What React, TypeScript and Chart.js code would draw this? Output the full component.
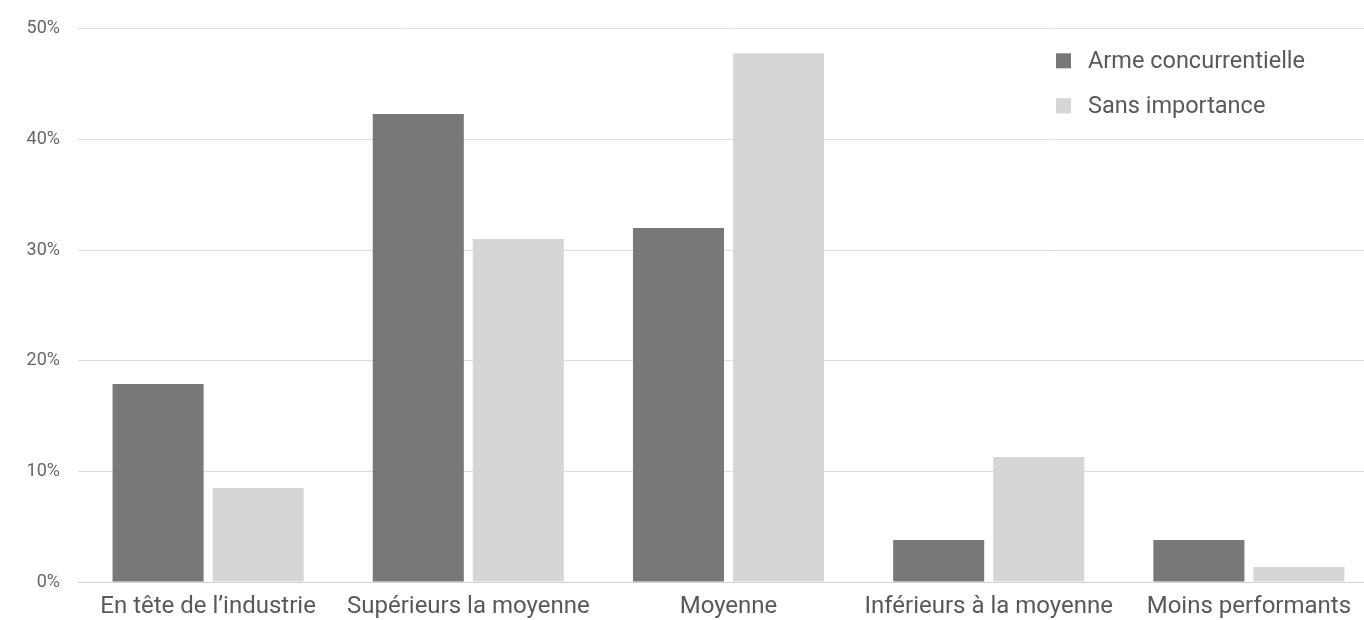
import React, { useEffect, useRef } from "react";
import { Chart, registerables } from "chart.js";

Chart.register(...registerables);

const categories = [
  "En tête de l’industrie",
  "Supérieurs la moyenne",
  "Moyenne",
  "Inférieurs à la moyenne",
  "Moins performants",
];
const seriesNames = ["Arme concurrentielle", "Sans importance"];
const armeValues = [17.9, 42.3, 32.0, 3.8, 3.8];
const sansValues = [8.5, 31.0, 47.8, 11.3, 1.35];
const yTicks = [0, 10, 20, 30, 40, 50];

const DARK = "#787878";
const LIGHT = "#d6d6d6";

const legendPlugin = {
  id: "customLegend",
  afterDraw(chart: any) {
    const { ctx, chartArea } = chart;
    const x0 = chartArea.right - 323;
    const y0 = chartArea.top + 32;
    const gap = 45;
    ctx.save();
    chart.data.datasets.forEach((ds: any, i: number) => {
      const cy = y0 + i * gap;
      ctx.fillStyle = ds.backgroundColor;
      ctx.fillRect(x0, cy - 7.5, 15, 15);
      ctx.fillStyle = "#595959";
      ctx.font = "23.5px Roboto";
      ctx.textAlign = "left";
      ctx.textBaseline = "middle";
      ctx.fillText(ds.label, x0 + 32, cy + 1);
    });
    ctx.restore();
  },
};

export default function App() {
  const ref = useRef<HTMLCanvasElement>(null);
  useEffect(() => {
    if (!ref.current) return;
    const chart = new Chart(ref.current, {
      type: "bar",
      data: {
        labels: categories,
        datasets: [
          { label: seriesNames[0], data: armeValues, backgroundColor: DARK },
          { label: seriesNames[1], data: sansValues, backgroundColor: LIGHT },
        ],
      },
      options: {
        responsive: false,
        animation: false,
        layout: { padding: { top: 18, right: 0, bottom: 0, left: 0 } },
        datasets: {
          bar: { categoryPercentage: 0.769, barPercentage: 0.91 },
        },
        plugins: {
          legend: { display: false },
          tooltip: { enabled: false },
        },
        scales: {
          x: {
            afterFit(scale: any) {
              scale.height = 38;
            },
            grid: { display: false, drawTicks: false },
            border: { display: true, color: "#d0d0d0" },
            ticks: {
              color: "#595959",
              font: { family: "Roboto", size: 24 },
              padding: 11,
              maxRotation: 0,
              autoSkip: false,
            },
          },
          y: {
            min: 0,
            max: 50,
            afterBuildTicks(scale: any) {
              scale.ticks = yTicks.map((v) => ({ value: v }));
            },
            afterFit(scale: any) {
              scale.width = 78;
            },
            grid: { color: "#dcdcdc", drawTicks: false },
            border: { display: false },
            ticks: {
              color: "#666666",
              font: { family: "Roboto", size: 18 },
              padding: 18,
              callback: (v: any) => v + "%",
            },
          },
        },
      },
      plugins: [legendPlugin],
    });
    return () => chart.destroy();
  }, []);
  return (
    <div style={{ position: "absolute", left: 0, top: 0, width: 1364, height: 620, background: "#fff", overflow: "hidden" }}>
      <canvas ref={ref} width={1379} height={620} />
    </div>
  );
}
